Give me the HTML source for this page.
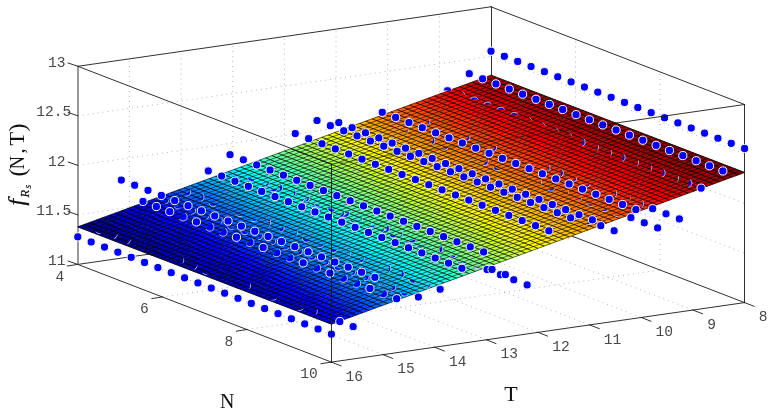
<!DOCTYPE html>
<html lang="en"><head><meta charset="utf-8"><title>Surface fit</title>
<style>html,body{margin:0;padding:0;background:#fff}svg{display:block}</style></head>
<body>
<svg width="774" height="415" viewBox="0 0 774 415">
<rect width="774" height="415" fill="#fff"/>
<g stroke="#000" stroke-opacity="0.4" stroke-width="0.8" stroke-dasharray="0.9 4.1" fill="none">
<path d="M162.33,296.97L575.53,237.47 M246.87,329.53L660.07,270.03 M439.35,212.34L692.95,310.04 M387.7,219.77L641.3,317.48 M336.05,227.21L589.65,324.91 M284.4,234.65L538,332.35 M232.75,242.09L486.35,339.79 M181.1,249.52L434.7,347.23 M129.45,256.96L383.05,354.66 M77.8,214.87L491,155.37 M77.8,165.35L491,105.85 M77.8,115.82L491,56.32 M439.35,212.34L439.35,14.24 M387.7,219.77L387.7,21.67 M336.05,227.21L336.05,29.11 M284.4,234.65L284.4,36.55 M232.75,242.09L232.75,43.99 M181.1,249.52L181.1,51.42 M129.45,256.96L129.45,58.86 M491,155.37L744.6,253.08 M491,105.85L744.6,203.55 M491,56.32L744.6,154.03 M575.53,237.47L575.53,39.37 M660.07,270.03L660.07,71.93"/>
</g>
<g stroke="#1a1a1a" stroke-width="0.9" fill="none" stroke-linecap="square">
<path d="M77.8,264.4L491,204.9 M491,204.9L744.6,302.6 M491.5,204.9L491.5,6.8 M77.8,66.3L491,6.8 M491,6.8L744.6,104.5 M744.5,302.6L744.5,104.5 M77.8,264.4L331.4,362.1 M331.4,362.1L744.6,302.6"/>
</g>
<path d="M78,264.4L78,66.3" stroke="#9a9a9a" stroke-width="2" fill="none"/>
<g fill="#0000ff" stroke="#fff" stroke-width="1.0">
<circle cx="425.76" cy="121.65" r="4.1"/>
<circle cx="273.53" cy="187.62" r="4.1"/>
<circle cx="404.01" cy="130.63" r="4.1"/>
<circle cx="439.11" cy="126.77" r="4.1"/>
<circle cx="286.87" cy="192.74" r="4.1"/>
<circle cx="417.36" cy="135.75" r="4.1"/>
<circle cx="360.52" cy="133.5" r="4.1"/>
<circle cx="251.78" cy="177.3" r="4.1"/>
<circle cx="452.45" cy="131.89" r="4.1"/>
<circle cx="300.22" cy="197.86" r="4.1"/>
<circle cx="430.71" cy="140.87" r="4.1"/>
<circle cx="373.86" cy="138.62" r="4.1"/>
<circle cx="265.13" cy="182.43" r="4.1"/>
<circle cx="465.8" cy="137.01" r="4.1"/>
<circle cx="313.57" cy="202.98" r="4.1"/>
<circle cx="444.05" cy="145.99" r="4.1"/>
<circle cx="186.54" cy="191.95" r="4.1"/>
<circle cx="99.55" cy="229.38" r="4.1"/>
<circle cx="164.79" cy="199.73" r="4.1"/>
<circle cx="387.21" cy="143.74" r="4.1"/>
<circle cx="278.47" cy="187.55" r="4.1"/>
<circle cx="479.15" cy="142.13" r="4.1"/>
<circle cx="326.92" cy="208.1" r="4.1"/>
<circle cx="457.4" cy="151.11" r="4.1"/>
<circle cx="199.88" cy="197.07" r="4.1"/>
<circle cx="112.89" cy="234.5" r="4.1"/>
<circle cx="178.14" cy="204.85" r="4.1"/>
<circle cx="400.56" cy="148.86" r="4.1"/>
<circle cx="291.82" cy="192.67" r="4.1"/>
<circle cx="492.49" cy="147.25" r="4.1"/>
<circle cx="340.26" cy="213.22" r="4.1"/>
<circle cx="470.75" cy="156.23" r="4.1"/>
<circle cx="213.23" cy="202.19" r="4.1"/>
<circle cx="126.24" cy="239.62" r="4.1"/>
<circle cx="191.48" cy="209.97" r="4.1"/>
<circle cx="413.91" cy="153.98" r="4.1"/>
<circle cx="305.17" cy="197.79" r="4.1"/>
<circle cx="505.84" cy="152.37" r="4.1"/>
<circle cx="353.61" cy="218.34" r="4.1"/>
<circle cx="484.09" cy="161.35" r="4.1"/>
<circle cx="226.58" cy="207.31" r="4.1"/>
<circle cx="139.59" cy="244.74" r="4.1"/>
<circle cx="204.83" cy="215.09" r="4.1"/>
<circle cx="427.25" cy="159.1" r="4.1"/>
<circle cx="318.52" cy="202.91" r="4.1"/>
<circle cx="519.19" cy="157.49" r="4.1"/>
<circle cx="366.96" cy="223.46" r="4.1"/>
<circle cx="497.44" cy="166.47" r="4.1"/>
<circle cx="239.93" cy="212.43" r="4.1"/>
<circle cx="152.94" cy="249.86" r="4.1"/>
<circle cx="218.18" cy="220.21" r="4.1"/>
<circle cx="440.6" cy="164.22" r="4.1"/>
<circle cx="331.86" cy="208.03" r="4.1"/>
<circle cx="532.54" cy="162.61" r="4.1"/>
<circle cx="380.31" cy="228.58" r="4.1"/>
<circle cx="510.79" cy="171.59" r="4.1"/>
<circle cx="253.27" cy="217.55" r="4.1"/>
<circle cx="166.28" cy="254.98" r="4.1"/>
<circle cx="231.53" cy="225.33" r="4.1"/>
<circle cx="453.95" cy="169.34" r="4.1"/>
<circle cx="345.21" cy="213.15" r="4.1"/>
<circle cx="545.88" cy="167.73" r="4.1"/>
<circle cx="393.65" cy="233.7" r="4.1"/>
<circle cx="524.14" cy="176.71" r="4.1"/>
<circle cx="266.62" cy="222.67" r="4.1"/>
<circle cx="179.63" cy="260.1" r="4.1"/>
<circle cx="244.87" cy="230.45" r="4.1"/>
<circle cx="467.29" cy="174.46" r="4.1"/>
<circle cx="358.56" cy="218.27" r="4.1"/>
<circle cx="559.23" cy="172.85" r="4.1"/>
<circle cx="407" cy="238.83" r="4.1"/>
<circle cx="537.48" cy="181.83" r="4.1"/>
<circle cx="279.97" cy="227.79" r="4.1"/>
<circle cx="192.98" cy="265.22" r="4.1"/>
<circle cx="258.22" cy="235.57" r="4.1"/>
<circle cx="480.64" cy="179.58" r="4.1"/>
<circle cx="371.91" cy="223.39" r="4.1"/>
<circle cx="572.58" cy="177.97" r="4.1"/>
<circle cx="420.35" cy="243.95" r="4.1"/>
<circle cx="550.83" cy="186.95" r="4.1"/>
<circle cx="293.32" cy="232.91" r="4.1"/>
<circle cx="206.33" cy="270.34" r="4.1"/>
<circle cx="271.57" cy="240.69" r="4.1"/>
<circle cx="493.99" cy="184.7" r="4.1"/>
<circle cx="385.25" cy="228.51" r="4.1"/>
<circle cx="585.93" cy="183.09" r="4.1"/>
<circle cx="433.69" cy="249.07" r="4.1"/>
<circle cx="564.18" cy="192.07" r="4.1"/>
<circle cx="306.66" cy="238.03" r="4.1"/>
<circle cx="219.67" cy="275.46" r="4.1"/>
<circle cx="284.92" cy="245.81" r="4.1"/>
<circle cx="507.34" cy="189.82" r="4.1"/>
<circle cx="398.6" cy="233.63" r="4.1"/>
<circle cx="599.27" cy="188.21" r="4.1"/>
<circle cx="447.04" cy="254.19" r="4.1"/>
<circle cx="577.53" cy="197.19" r="4.1"/>
<circle cx="320.01" cy="243.15" r="4.1"/>
<circle cx="233.02" cy="280.58" r="4.1"/>
<circle cx="298.26" cy="250.93" r="4.1"/>
<circle cx="520.68" cy="194.94" r="4.1"/>
<circle cx="411.95" cy="238.75" r="4.1"/>
<circle cx="612.62" cy="193.33" r="4.1"/>
<circle cx="460.39" cy="259.31" r="4.1"/>
<circle cx="590.87" cy="202.31" r="4.1"/>
<circle cx="333.36" cy="248.27" r="4.1"/>
<circle cx="246.37" cy="285.7" r="4.1"/>
<circle cx="311.61" cy="256.05" r="4.1"/>
<circle cx="534.03" cy="200.06" r="4.1"/>
<circle cx="425.29" cy="243.87" r="4.1"/>
<circle cx="625.97" cy="198.45" r="4.1"/>
<circle cx="473.74" cy="264.43" r="4.1"/>
<circle cx="604.22" cy="207.43" r="4.1"/>
<circle cx="346.71" cy="253.39" r="4.1"/>
<circle cx="259.72" cy="290.82" r="4.1"/>
<circle cx="324.96" cy="261.17" r="4.1"/>
<circle cx="547.38" cy="205.18" r="4.1"/>
<circle cx="438.64" cy="248.99" r="4.1"/>
<circle cx="639.32" cy="203.57" r="4.1"/>
<circle cx="617.57" cy="212.55" r="4.1"/>
<circle cx="360.05" cy="258.51" r="4.1"/>
<circle cx="273.06" cy="295.94" r="4.1"/>
<circle cx="338.31" cy="266.3" r="4.1"/>
<circle cx="560.73" cy="210.3" r="4.1"/>
<circle cx="451.99" cy="254.11" r="4.1"/>
<circle cx="373.4" cy="263.63" r="4.1"/>
<circle cx="286.41" cy="301.06" r="4.1"/>
<circle cx="351.65" cy="271.42" r="4.1"/>
<circle cx="574.07" cy="215.42" r="4.1"/>
<circle cx="465.34" cy="259.23" r="4.1"/>
<circle cx="386.75" cy="268.75" r="4.1"/>
<circle cx="299.76" cy="306.18" r="4.1"/>
<circle cx="365" cy="276.54" r="4.1"/>
<circle cx="587.42" cy="220.54" r="4.1"/>
<circle cx="478.68" cy="264.35" r="4.1"/>
<circle cx="400.09" cy="273.87" r="4.1"/>
<circle cx="313.11" cy="311.3" r="4.1"/>
<circle cx="378.35" cy="281.66" r="4.1"/>
<circle cx="413.44" cy="278.99" r="4.1"/>
<circle cx="326.45" cy="316.42" r="4.1"/>
<circle cx="391.69" cy="286.78" r="4.1"/>
<circle cx="426.79" cy="284.11" r="4.1"/>
<circle cx="405.04" cy="291.9" r="4.1"/>
</g>
<g stroke-width="0.5" stroke-linejoin="round">
<polygon points="77.8,226.86 93.09,221.25 152.55,255.53" fill="#00008f" stroke="#00008f"/>
<polygon points="93.09,221.25 102.42,217.82 195.66,272.07 152.55,255.53" fill="#00009f" stroke="#00009f"/>
<polygon points="102.42,217.82 111.75,214.4 237.05,287.95 195.66,272.07" fill="#0000af" stroke="#0000af"/>
<polygon points="111.75,214.4 121.07,210.98 276.81,303.2 237.05,287.95" fill="#0000bf" stroke="#0000bf"/>
<polygon points="121.07,210.98 130.4,207.56 315.04,317.87 276.81,303.2" fill="#0000cf" stroke="#0000cf"/>
<polygon points="130.4,207.56 136.62,205.27 334.7,322.93 331.4,324.14 315.04,317.87" fill="#0000df" stroke="#0000df"/>
<polygon points="136.62,205.27 142.42,203.14 340.6,320.77 334.7,322.93" fill="#0000ef" stroke="#0000ef"/>
<polygon points="142.42,203.14 148.22,201.01 346.5,318.6 340.6,320.77" fill="#0000ff" stroke="#0000ff"/>
<polygon points="148.22,201.01 154.02,198.89 352.4,316.44 346.5,318.6" fill="#0010ff" stroke="#0010ff"/>
<polygon points="154.02,198.89 159.82,196.76 358.3,314.27 352.4,316.44" fill="#0020ff" stroke="#0020ff"/>
<polygon points="159.82,196.76 165.62,194.63 364.2,312.1 358.3,314.27" fill="#0030ff" stroke="#0030ff"/>
<polygon points="165.62,194.63 171.42,192.5 370.1,309.94 364.2,312.1" fill="#0040ff" stroke="#0040ff"/>
<polygon points="171.42,192.5 177.22,190.37 376,307.77 370.1,309.94" fill="#0050ff" stroke="#0050ff"/>
<polygon points="177.22,190.37 183.02,188.24 381.9,305.61 376,307.77" fill="#0060ff" stroke="#0060ff"/>
<polygon points="183.02,188.24 188.82,186.11 387.8,303.44 381.9,305.61" fill="#0070ff" stroke="#0070ff"/>
<polygon points="188.82,186.11 194.62,183.99 393.7,301.28 387.8,303.44" fill="#0080ff" stroke="#0080ff"/>
<polygon points="194.62,183.99 200.42,181.86 399.6,299.11 393.7,301.28" fill="#008fff" stroke="#008fff"/>
<polygon points="200.42,181.86 206.22,179.73 405.5,296.95 399.6,299.11" fill="#009fff" stroke="#009fff"/>
<polygon points="206.22,179.73 212.02,177.6 411.4,294.78 405.5,296.95" fill="#00afff" stroke="#00afff"/>
<polygon points="212.02,177.6 217.82,175.47 417.3,292.62 411.4,294.78" fill="#00bfff" stroke="#00bfff"/>
<polygon points="217.82,175.47 223.61,173.34 423.2,290.45 417.3,292.62" fill="#00cfff" stroke="#00cfff"/>
<polygon points="223.61,173.34 229.41,171.21 429.1,288.29 423.2,290.45" fill="#00dfff" stroke="#00dfff"/>
<polygon points="229.41,171.21 235.21,169.08 435,286.12 429.1,288.29" fill="#00efff" stroke="#00efff"/>
<polygon points="235.21,169.08 241.01,166.96 440.9,283.96 435,286.12" fill="#00ffff" stroke="#00ffff"/>
<polygon points="241.01,166.96 247.21,164.68 447.09,281.68 440.9,283.96" fill="#10ffef" stroke="#10ffef"/>
<polygon points="247.21,164.68 253.4,162.41 453.28,279.41 447.09,281.68" fill="#20ffdf" stroke="#20ffdf"/>
<polygon points="253.4,162.41 259.59,160.14 459.48,277.14 453.28,279.41" fill="#30ffcf" stroke="#30ffcf"/>
<polygon points="259.59,160.14 265.78,157.86 465.67,274.86 459.48,277.14" fill="#40ffbf" stroke="#40ffbf"/>
<polygon points="265.78,157.86 271.98,155.59 471.86,272.59 465.67,274.86" fill="#50ffaf" stroke="#50ffaf"/>
<polygon points="271.98,155.59 278.17,153.32 478.05,270.32 471.86,272.59" fill="#60ff9f" stroke="#60ff9f"/>
<polygon points="278.17,153.32 284.36,151.05 484.25,268.04 478.05,270.32" fill="#70ff8f" stroke="#70ff8f"/>
<polygon points="284.36,151.05 290.56,148.77 490.44,265.77 484.25,268.04" fill="#80ff80" stroke="#80ff80"/>
<polygon points="290.56,148.77 296.75,146.5 496.63,263.5 490.44,265.77" fill="#8fff70" stroke="#8fff70"/>
<polygon points="296.75,146.5 302.94,144.23 502.83,261.23 496.63,263.5" fill="#9fff60" stroke="#9fff60"/>
<polygon points="302.94,144.23 309.13,141.95 509.02,258.95 502.83,261.23" fill="#afff50" stroke="#afff50"/>
<polygon points="309.13,141.95 315.33,139.68 515.21,256.68 509.02,258.95" fill="#bfff40" stroke="#bfff40"/>
<polygon points="315.33,139.68 321.52,137.41 521.4,254.41 515.21,256.68" fill="#cfff30" stroke="#cfff30"/>
<polygon points="321.52,137.41 327.71,135.14 527.6,252.13 521.4,254.41" fill="#dfff20" stroke="#dfff20"/>
<polygon points="327.71,135.14 333.9,132.86 533.79,249.86 527.6,252.13" fill="#efff10" stroke="#efff10"/>
<polygon points="333.9,132.86 339.63,130.76 541.72,246.95 533.79,249.86" fill="#ffff00" stroke="#ffff00"/>
<polygon points="339.63,130.76 344.37,129.02 553.34,242.69 541.72,246.95" fill="#ffef00" stroke="#ffef00"/>
<polygon points="344.37,129.02 349.1,127.29 563.54,238.94 553.34,242.69" fill="#ffdf00" stroke="#ffdf00"/>
<polygon points="349.1,127.29 353.83,125.55 571.61,235.98 563.54,238.94" fill="#ffcf00" stroke="#ffcf00"/>
<polygon points="353.83,125.55 358.57,123.81 579.68,233.02 571.61,235.98" fill="#ffbf00" stroke="#ffbf00"/>
<polygon points="358.57,123.81 364.76,121.54 587.75,230.06 579.68,233.02" fill="#ffaf00" stroke="#ffaf00"/>
<polygon points="364.76,121.54 372.31,118.77 595.82,227.09 587.75,230.06" fill="#ff9f00" stroke="#ff9f00"/>
<polygon points="372.31,118.77 379.85,116 603.89,224.13 595.82,227.09" fill="#ff8f00" stroke="#ff8f00"/>
<polygon points="379.85,116 387.4,113.23 611.96,221.17 603.89,224.13" fill="#ff8000" stroke="#ff8000"/>
<polygon points="387.4,113.23 394.94,110.46 618.98,218.59 611.96,221.17" fill="#ff7000" stroke="#ff7000"/>
<polygon points="394.94,110.46 402.48,107.69 626,216.02 618.98,218.59" fill="#ff6000" stroke="#ff6000"/>
<polygon points="402.48,107.69 410.03,104.92 633.02,213.44 626,216.02" fill="#ff5000" stroke="#ff5000"/>
<polygon points="410.03,104.92 417.57,102.15 640.03,210.87 633.02,213.44" fill="#ff4000" stroke="#ff4000"/>
<polygon points="417.57,102.15 425.11,99.39 647.05,208.29 640.03,210.87" fill="#ff3000" stroke="#ff3000"/>
<polygon points="425.11,99.39 432.66,96.62 654.07,205.72 647.05,208.29" fill="#ff2000" stroke="#ff2000"/>
<polygon points="432.66,96.62 440.2,93.85 661.09,203.14 654.07,205.72" fill="#ff1000" stroke="#ff1000"/>
<polygon points="440.2,93.85 447.74,91.08 668.82,200.3 661.09,203.14" fill="#ff0000" stroke="#ff0000"/>
<polygon points="447.74,91.08 455.27,88.32 676.95,197.32 668.82,200.3" fill="#ef0000" stroke="#ef0000"/>
<polygon points="455.27,88.32 462.78,85.56 685.09,194.33 676.95,197.32" fill="#df0000" stroke="#df0000"/>
<polygon points="462.78,85.56 470.29,82.81 693.56,191.22 685.09,194.33" fill="#cf0000" stroke="#cf0000"/>
<polygon points="470.29,82.81 477.79,80.05 702.45,187.96 693.56,191.22" fill="#bf0000" stroke="#bf0000"/>
<polygon points="477.79,80.05 485.3,77.3 711.35,184.69 702.45,187.96" fill="#af0000" stroke="#af0000"/>
<polygon points="485.3,77.3 491,75.2 508.5,81.92 722.6,180.56 711.35,184.69" fill="#9f0000" stroke="#9f0000"/>
<polygon points="508.5,81.92 614.3,122.5 735.69,175.76 722.6,180.56" fill="#8f0000" stroke="#8f0000"/>
<polygon points="614.3,122.5 744.6,172.49 735.69,175.76" fill="#800000" stroke="#800000"/>
</g>
<path d="M77.8,226.86L491,75.2 M82.41,228.63L495.61,76.97 M87.02,230.4L500.22,78.74 M91.63,232.17L504.83,80.51 M96.24,233.94L509.44,82.28 M100.85,235.7L514.05,84.05 M105.47,237.47L518.67,85.82 M110.08,239.24L523.28,87.59 M114.69,241.01L527.89,89.35 M119.3,242.78L532.5,91.12 M123.91,244.55L537.11,92.89 M128.52,246.32L541.72,94.66 M133.13,248.09L546.33,96.43 M137.74,249.85L550.94,98.2 M142.35,251.62L555.55,99.97 M146.96,253.39L560.16,101.74 M151.57,255.16L564.77,103.5 M156.19,256.93L569.39,105.27 M160.8,258.7L574,107.04 M165.41,260.47L578.61,108.81 M170.02,262.24L583.22,110.58 M174.63,264L587.83,112.35 M179.24,265.77L592.44,114.12 M183.85,267.54L597.05,115.89 M188.46,269.31L601.66,117.66 M193.07,271.08L606.27,119.42 M197.68,272.85L610.88,121.19 M202.29,274.62L615.49,122.96 M206.91,276.39L620.11,124.73 M211.52,278.16L624.72,126.5 M216.13,279.92L629.33,128.27 M220.74,281.69L633.94,130.04 M225.35,283.46L638.55,131.81 M229.96,285.23L643.16,133.57 M234.57,287L647.77,135.34 M239.18,288.77L652.38,137.11 M243.79,290.54L656.99,138.88 M248.4,292.31L661.6,140.65 M253.01,294.07L666.21,142.42 M257.63,295.84L670.83,144.19 M262.24,297.61L675.44,145.96 M266.85,299.38L680.05,147.72 M271.46,301.15L684.66,149.49 M276.07,302.92L689.27,151.26 M280.68,304.69L693.88,153.03 M285.29,306.46L698.49,154.8 M289.9,308.22L703.1,156.57 M294.51,309.99L707.71,158.34 M299.12,311.76L712.32,160.11 M303.73,313.53L716.93,161.88 M308.35,315.3L721.55,163.64 M312.96,317.07L726.16,165.41 M317.57,318.84L730.77,167.18 M322.18,320.61L735.38,168.95 M326.79,322.38L739.99,170.72 M331.4,324.14L744.6,172.49" stroke="#000" stroke-width="0.58" fill="none"/>
<path d="M77.8,226.86L331.4,324.14 M84.06,224.56L337.66,321.85 M90.32,222.26L343.92,319.55 M96.58,219.97L350.18,317.25 M102.84,217.67L356.44,314.95 M109.1,215.37L362.7,312.65 M115.36,213.07L368.96,310.36 M121.62,210.78L375.22,308.06 M127.88,208.48L381.48,305.76 M134.15,206.18L387.75,303.46 M140.41,203.88L394.01,301.17 M146.67,201.58L400.27,298.87 M152.93,199.29L406.53,296.57 M159.19,196.99L412.79,294.27 M165.45,194.69L419.05,291.97 M171.71,192.39L425.31,289.68 M177.97,190.09L431.57,287.38 M184.23,187.8L437.83,285.08 M190.49,185.5L444.09,282.78 M196.75,183.2L450.35,280.49 M203.01,180.9L456.61,278.19 M209.27,178.61L462.87,275.89 M215.53,176.31L469.13,273.59 M221.79,174.01L475.39,271.29 M228.05,171.71L481.65,269 M234.32,169.41L487.92,266.7 M240.58,167.12L494.18,264.4 M246.84,164.82L500.44,262.1 M253.1,162.52L506.7,259.81 M259.36,160.22L512.96,257.51 M265.62,157.93L519.22,255.21 M271.88,155.63L525.48,252.91 M278.14,153.33L531.74,250.61 M284.4,151.03L538,248.32 M290.66,148.73L544.26,246.02 M296.92,146.44L550.52,243.72 M303.18,144.14L556.78,241.42 M309.44,141.84L563.04,239.12 M315.7,139.54L569.3,236.83 M321.96,137.25L575.56,234.53 M328.22,134.95L581.82,232.23 M334.48,132.65L588.08,229.93 M340.75,130.35L594.35,227.64 M347.01,128.05L600.61,225.34 M353.27,125.76L606.87,223.04 M359.53,123.46L613.13,220.74 M365.79,121.16L619.39,218.44 M372.05,118.86L625.65,216.15 M378.31,116.56L631.91,213.85 M384.57,114.27L638.17,211.55 M390.83,111.97L644.43,209.25 M397.09,109.67L650.69,206.96 M403.35,107.37L656.95,204.66 M409.61,105.08L663.21,202.36 M415.87,102.78L669.47,200.06 M422.13,100.48L675.73,197.76 M428.39,98.18L681.99,195.47 M434.65,95.88L688.25,193.17 M440.92,93.59L694.52,190.87 M447.18,91.29L700.78,188.57 M453.44,88.99L707.04,186.27 M459.7,86.69L713.3,183.98 M465.96,84.4L719.56,181.68 M472.22,82.1L725.82,179.38 M478.48,79.8L732.08,177.08 M484.74,77.5L738.34,174.79 M491,75.2L744.6,172.49" stroke="#000" stroke-width="0.8" fill="none"/>
<defs>
<clipPath id="c0"><polygon points="4.49,-9.36 1.02,10.33 10.87,12.07 14.34,-7.63"/></clipPath>
<clipPath id="c1"><polygon points="10.2,-0.56 -9.12,4.62 -6.53,14.28 12.79,9.1"/></clipPath>
<clipPath id="c2"><polygon points="5.08,-9.26 1.61,10.44 11.46,12.17 14.93,-7.52"/></clipPath>
<clipPath id="c3"><polygon points="10.54,0.7 -8.78,5.87 -6.19,15.53 13.13,10.36"/></clipPath>
<clipPath id="c4"><polygon points="8.58,5.68 -10.22,-1.16 -13.64,8.23 5.16,15.07"/></clipPath>
<clipPath id="c5"><polygon points="8.85,4.92 -9.94,-1.92 -13.36,7.48 5.43,14.32"/></clipPath>
<clipPath id="c6"><polygon points="8.23,6.62 -10.56,-0.23 -13.98,9.17 4.81,16.01"/></clipPath>
<clipPath id="c7"><polygon points="9.03,-5.47 -3.82,9.85 3.84,16.27 16.69,0.95"/></clipPath>
<clipPath id="c8"><polygon points="3.8,-9.48 0.33,10.21 10.18,11.95 13.65,-7.75"/></clipPath>
<clipPath id="c9"><polygon points="10.07,-1.04 -9.25,4.13 -6.66,13.79 12.66,8.62"/></clipPath>
<clipPath id="c10"><polygon points="8.27,-6.12 -4.59,9.2 3.07,15.63 15.93,0.31"/></clipPath>
<clipPath id="c11"><polygon points="8.04,-6.31 -4.82,9.01 2.84,15.44 15.7,0.12"/></clipPath>
<clipPath id="c12"><polygon points="10.38,0.12 -8.93,5.29 -6.35,14.95 12.97,9.78"/></clipPath>
<clipPath id="c13"><polygon points="7.81,-6.5 -5.05,8.82 2.61,15.25 15.47,-0.08"/></clipPath>
<clipPath id="c14"><polygon points="8.17,6.8 -10.63,-0.04 -14.05,9.36 4.75,16.2"/></clipPath>
<clipPath id="c15"><polygon points="8.73,-5.73 -4.13,9.59 3.53,16.02 16.39,0.7"/></clipPath>
<clipPath id="c16"><polygon points="3.31,-9.57 -0.16,10.13 9.69,11.86 13.16,-7.83"/></clipPath>
<clipPath id="c17"><polygon points="3.51,-9.54 0.04,10.16 9.88,11.9 13.36,-7.8"/></clipPath>
<clipPath id="c18"><polygon points="8.37,6.24 -10.42,-0.6 -13.84,8.8 4.95,15.64"/></clipPath>
<clipPath id="c19"><polygon points="10.28,-0.27 -9.04,4.91 -6.45,14.57 12.87,9.39"/></clipPath>
<clipPath id="c20"><polygon points="4.1,-9.43 0.63,10.26 10.48,12 13.95,-7.69"/></clipPath>
<clipPath id="c21"><polygon points="8.06,7.09 -10.73,0.24 -14.15,9.64 4.64,16.48"/></clipPath>
<clipPath id="c22"><polygon points="8.44,6.05 -10.35,-0.79 -13.77,8.61 5.02,15.45"/></clipPath>
<clipPath id="c23"><polygon points="9.11,-5.41 -3.75,9.91 3.91,16.34 16.77,1.02"/></clipPath>
<clipPath id="c24"><polygon points="5.58,-9.17 2.1,10.53 11.95,12.26 15.43,-7.43"/></clipPath>
<clipPath id="c25"><polygon points="8.68,5.39 -10.12,-1.45 -13.54,7.95 5.26,14.79"/></clipPath>
<clipPath id="c26"><polygon points="4.69,-9.33 1.22,10.37 11.07,12.11 14.54,-7.59"/></clipPath>
<clipPath id="c27"><polygon points="8.34,6.33 -10.46,-0.51 -13.88,8.89 4.92,15.73"/></clipPath>
<clipPath id="c28"><polygon points="10.67,1.18 -8.65,6.36 -6.06,16.01 13.26,10.84"/></clipPath>
<clipPath id="c29"><polygon points="8.57,-5.86 -4.28,9.46 3.38,15.89 16.23,0.57"/></clipPath>
<clipPath id="c30"><polygon points="10.44,0.31 -8.88,5.49 -6.29,15.15 13.02,9.97"/></clipPath>
<clipPath id="c31"><polygon points="7.65,-6.63 -5.2,8.69 2.46,15.12 15.31,-0.2"/></clipPath>
<clipPath id="c32"><polygon points="5.28,-9.22 1.81,10.47 11.66,12.21 15.13,-7.49"/></clipPath>
<clipPath id="c33"><polygon points="8.78,5.11 -10.01,-1.73 -13.43,7.67 5.36,14.51"/></clipPath>
<clipPath id="c34"><polygon points="5.38,-9.21 1.91,10.49 11.76,12.23 15.23,-7.47"/></clipPath>
<clipPath id="c35"><polygon points="9.19,-5.35 -3.67,9.97 3.99,16.4 16.85,1.08"/></clipPath>
<clipPath id="c36"><polygon points="4.79,-9.31 1.32,10.39 11.16,12.12 14.64,-7.57"/></clipPath>
<clipPath id="c37"><polygon points="10.46,0.41 -8.86,5.58 -6.27,15.24 13.05,10.07"/></clipPath>
<clipPath id="c38"><polygon points="5.18,-9.24 1.71,10.46 11.56,12.19 15.03,-7.5"/></clipPath>
<clipPath id="c39"><polygon points="9.42,-5.15 -3.44,10.17 4.22,16.6 17.08,1.27"/></clipPath>
<clipPath id="c40"><polygon points="10.13,-0.85 -9.19,4.33 -6.61,13.99 12.71,8.81"/></clipPath>
<clipPath id="c41"><polygon points="10.59,0.89 -8.73,6.07 -6.14,15.72 13.18,10.55"/></clipPath>
<clipPath id="c42"><polygon points="8.13,6.9 -10.66,0.06 -14.08,9.45 4.71,16.29"/></clipPath>
<clipPath id="c43"><polygon points="10.57,0.79 -8.75,5.97 -6.17,15.63 13.15,10.45"/></clipPath>
<clipPath id="c44"><polygon points="-10,-0.4 10,-0.4 10,-10.4 -10,-10.4"/></clipPath>
<clipPath id="c45"><polygon points="-3.52,-10.1 9.34,5.22 17,-1.21 4.14,-16.53"/></clipPath>
<clipPath id="c46"><polygon points="-10,-1.9 10,-1.9 10,-11.9 -10,-11.9"/></clipPath>
<clipPath id="c47"><polygon points="6.36,-7.78 -7.78,6.36 -0.71,13.44 13.44,-0.71"/></clipPath>
<clipPath id="c48"><polygon points="3.71,-9.5 0.23,10.2 10.08,11.93 13.55,-7.76"/></clipPath>
<clipPath id="c49"><polygon points="3.02,-9.62 -0.46,10.07 9.39,11.81 12.86,-7.89"/></clipPath>
</defs>
<g fill="#0000ff" stroke="#fff" stroke-width="0.7">
<g transform="translate(425.76,121.65)" clip-path="url(#c0)"><circle r="4.1"/></g>
<g transform="translate(273.53,187.62)" clip-path="url(#c1)"><circle r="4.1"/></g>
<g transform="translate(404.01,130.63)" clip-path="url(#c2)"><circle r="4.1"/></g>
<g transform="translate(439.11,126.77)" clip-path="url(#c3)"><circle r="4.1"/></g>
<g transform="translate(417.36,135.75)" clip-path="url(#c3)"><circle r="4.1"/></g>
<g transform="translate(360.52,133.5)" clip-path="url(#c4)"><circle r="4.1"/></g>
<g transform="translate(251.78,177.3)" clip-path="url(#c5)"><circle r="4.1"/></g>
<g transform="translate(452.45,131.89)" clip-path="url(#c6)"><circle r="4.1"/></g>
<g transform="translate(300.22,197.86)" clip-path="url(#c7)"><circle r="4.1"/></g>
<g transform="translate(430.71,140.87)" clip-path="url(#c8)"><circle r="4.1"/></g>
<g transform="translate(373.86,138.62)" clip-path="url(#c9)"><circle r="4.1"/></g>
<g transform="translate(265.13,182.43)" clip-path="url(#c10)"><circle r="4.1"/></g>
<g transform="translate(465.8,137.01)" clip-path="url(#c11)"><circle r="4.1"/></g>
<g transform="translate(313.57,202.98)" clip-path="url(#c6)"><circle r="4.1"/></g>
<g transform="translate(444.05,145.99)" clip-path="url(#c12)"><circle r="4.1"/></g>
<g transform="translate(186.54,191.95)" clip-path="url(#c13)"><circle r="4.1"/></g>
<g transform="translate(99.55,229.38)" clip-path="url(#c14)"><circle r="4.1"/></g>
<g transform="translate(164.79,199.73)" clip-path="url(#c15)"><circle r="4.1"/></g>
<g transform="translate(387.21,143.74)" clip-path="url(#c4)"><circle r="4.1"/></g>
<g transform="translate(278.47,187.55)" clip-path="url(#c16)"><circle r="4.1"/></g>
<g transform="translate(326.92,208.1)" clip-path="url(#c0)"><circle r="4.1"/></g>
<g transform="translate(199.88,197.07)" clip-path="url(#c17)"><circle r="4.1"/></g>
<g transform="translate(112.89,234.5)" clip-path="url(#c7)"><circle r="4.1"/></g>
<g transform="translate(178.14,204.85)" clip-path="url(#c18)"><circle r="4.1"/></g>
<g transform="translate(400.56,148.86)" clip-path="url(#c19)"><circle r="4.1"/></g>
<g transform="translate(291.82,192.67)" clip-path="url(#c20)"><circle r="4.1"/></g>
<g transform="translate(492.49,147.25)" clip-path="url(#c11)"><circle r="4.1"/></g>
<g transform="translate(340.26,213.22)" clip-path="url(#c11)"><circle r="4.1"/></g>
<g transform="translate(470.75,156.23)" clip-path="url(#c21)"><circle r="4.1"/></g>
<g transform="translate(213.23,202.19)" clip-path="url(#c4)"><circle r="4.1"/></g>
<g transform="translate(126.24,239.62)" clip-path="url(#c7)"><circle r="4.1"/></g>
<g transform="translate(191.48,209.97)" clip-path="url(#c10)"><circle r="4.1"/></g>
<g transform="translate(413.91,153.98)" clip-path="url(#c16)"><circle r="4.1"/></g>
<g transform="translate(305.17,197.79)" clip-path="url(#c10)"><circle r="4.1"/></g>
<g transform="translate(353.61,218.34)" clip-path="url(#c22)"><circle r="4.1"/></g>
<g transform="translate(484.09,161.35)" clip-path="url(#c11)"><circle r="4.1"/></g>
<g transform="translate(204.83,215.09)" clip-path="url(#c23)"><circle r="4.1"/></g>
<g transform="translate(427.25,159.1)" clip-path="url(#c4)"><circle r="4.1"/></g>
<g transform="translate(318.52,202.91)" clip-path="url(#c4)"><circle r="4.1"/></g>
<g transform="translate(519.19,157.49)" clip-path="url(#c22)"><circle r="4.1"/></g>
<g transform="translate(366.96,223.46)" clip-path="url(#c24)"><circle r="4.1"/></g>
<g transform="translate(497.44,166.47)" clip-path="url(#c25)"><circle r="4.1"/></g>
<g transform="translate(239.93,212.43)" clip-path="url(#c18)"><circle r="4.1"/></g>
<g transform="translate(218.18,220.21)" clip-path="url(#c26)"><circle r="4.1"/></g>
<g transform="translate(440.6,164.22)" clip-path="url(#c27)"><circle r="4.1"/></g>
<g transform="translate(331.86,208.03)" clip-path="url(#c5)"><circle r="4.1"/></g>
<g transform="translate(532.54,162.61)" clip-path="url(#c28)"><circle r="4.1"/></g>
<g transform="translate(380.31,228.58)" clip-path="url(#c29)"><circle r="4.1"/></g>
<g transform="translate(253.27,217.55)" clip-path="url(#c30)"><circle r="4.1"/></g>
<g transform="translate(231.53,225.33)" clip-path="url(#c4)"><circle r="4.1"/></g>
<g transform="translate(453.95,169.34)" clip-path="url(#c10)"><circle r="4.1"/></g>
<g transform="translate(345.21,213.15)" clip-path="url(#c31)"><circle r="4.1"/></g>
<g transform="translate(545.88,167.73)" clip-path="url(#c0)"><circle r="4.1"/></g>
<g transform="translate(393.65,233.7)" clip-path="url(#c25)"><circle r="4.1"/></g>
<g transform="translate(266.62,222.67)" clip-path="url(#c26)"><circle r="4.1"/></g>
<g transform="translate(179.63,260.1)" clip-path="url(#c32)"><circle r="4.1"/></g>
<g transform="translate(244.87,230.45)" clip-path="url(#c33)"><circle r="4.1"/></g>
<g transform="translate(467.29,174.46)" clip-path="url(#c4)"><circle r="4.1"/></g>
<g transform="translate(358.56,218.27)" clip-path="url(#c34)"><circle r="4.1"/></g>
<g transform="translate(559.23,172.85)" clip-path="url(#c8)"><circle r="4.1"/></g>
<g transform="translate(407,238.83)" clip-path="url(#c3)"><circle r="4.1"/></g>
<g transform="translate(537.48,181.83)" clip-path="url(#c2)"><circle r="4.1"/></g>
<g transform="translate(279.97,227.79)" clip-path="url(#c13)"><circle r="4.1"/></g>
<g transform="translate(192.98,265.22)" clip-path="url(#c35)"><circle r="4.1"/></g>
<g transform="translate(258.22,235.57)" clip-path="url(#c10)"><circle r="4.1"/></g>
<g transform="translate(480.64,179.58)" clip-path="url(#c36)"><circle r="4.1"/></g>
<g transform="translate(371.91,223.39)" clip-path="url(#c37)"><circle r="4.1"/></g>
<g transform="translate(572.58,177.97)" clip-path="url(#c29)"><circle r="4.1"/></g>
<g transform="translate(420.35,243.95)" clip-path="url(#c22)"><circle r="4.1"/></g>
<g transform="translate(550.83,186.95)" clip-path="url(#c1)"><circle r="4.1"/></g>
<g transform="translate(293.32,232.91)" clip-path="url(#c38)"><circle r="4.1"/></g>
<g transform="translate(206.33,270.34)" clip-path="url(#c14)"><circle r="4.1"/></g>
<g transform="translate(271.57,240.69)" clip-path="url(#c10)"><circle r="4.1"/></g>
<g transform="translate(493.99,184.7)" clip-path="url(#c5)"><circle r="4.1"/></g>
<g transform="translate(385.25,228.51)" clip-path="url(#c16)"><circle r="4.1"/></g>
<g transform="translate(585.93,183.09)" clip-path="url(#c1)"><circle r="4.1"/></g>
<g transform="translate(433.69,249.07)" clip-path="url(#c24)"><circle r="4.1"/></g>
<g transform="translate(564.18,192.07)" clip-path="url(#c24)"><circle r="4.1"/></g>
<g transform="translate(306.66,238.03)" clip-path="url(#c33)"><circle r="4.1"/></g>
<g transform="translate(284.92,245.81)" clip-path="url(#c30)"><circle r="4.1"/></g>
<g transform="translate(507.34,189.82)" clip-path="url(#c19)"><circle r="4.1"/></g>
<g transform="translate(398.6,233.63)" clip-path="url(#c36)"><circle r="4.1"/></g>
<g transform="translate(599.27,188.21)" clip-path="url(#c3)"><circle r="4.1"/></g>
<g transform="translate(447.04,254.19)" clip-path="url(#c39)"><circle r="4.1"/></g>
<g transform="translate(577.53,197.19)" clip-path="url(#c7)"><circle r="4.1"/></g>
<g transform="translate(320.01,243.15)" clip-path="url(#c30)"><circle r="4.1"/></g>
<g transform="translate(298.26,250.93)" clip-path="url(#c13)"><circle r="4.1"/></g>
<g transform="translate(520.68,194.94)" clip-path="url(#c37)"><circle r="4.1"/></g>
<g transform="translate(411.95,238.75)" clip-path="url(#c9)"><circle r="4.1"/></g>
<g transform="translate(612.62,193.33)" clip-path="url(#c0)"><circle r="4.1"/></g>
<g transform="translate(460.39,259.31)" clip-path="url(#c6)"><circle r="4.1"/></g>
<g transform="translate(590.87,202.31)" clip-path="url(#c22)"><circle r="4.1"/></g>
<g transform="translate(333.36,248.27)" clip-path="url(#c40)"><circle r="4.1"/></g>
<g transform="translate(246.37,285.7)" clip-path="url(#c2)"><circle r="4.1"/></g>
<g transform="translate(311.61,256.05)" clip-path="url(#c40)"><circle r="4.1"/></g>
<g transform="translate(534.03,200.06)" clip-path="url(#c34)"><circle r="4.1"/></g>
<g transform="translate(625.97,198.45)" clip-path="url(#c24)"><circle r="4.1"/></g>
<g transform="translate(473.74,264.43)" clip-path="url(#c28)"><circle r="4.1"/></g>
<g transform="translate(604.22,207.43)" clip-path="url(#c12)"><circle r="4.1"/></g>
<g transform="translate(346.71,253.39)" clip-path="url(#c38)"><circle r="4.1"/></g>
<g transform="translate(324.96,261.17)" clip-path="url(#c10)"><circle r="4.1"/></g>
<g transform="translate(547.38,205.18)" clip-path="url(#c19)"><circle r="4.1"/></g>
<g transform="translate(438.64,248.99)" clip-path="url(#c16)"><circle r="4.1"/></g>
<g transform="translate(639.32,203.57)" clip-path="url(#c0)"><circle r="4.1"/></g>
<g transform="translate(617.57,212.55)" clip-path="url(#c6)"><circle r="4.1"/></g>
<g transform="translate(360.05,258.51)" clip-path="url(#c10)"><circle r="4.1"/></g>
<g transform="translate(273.06,295.94)" clip-path="url(#c41)"><circle r="4.1"/></g>
<g transform="translate(338.31,266.3)" clip-path="url(#c33)"><circle r="4.1"/></g>
<g transform="translate(560.73,210.3)" clip-path="url(#c19)"><circle r="4.1"/></g>
<g transform="translate(451.99,254.11)" clip-path="url(#c19)"><circle r="4.1"/></g>
<g transform="translate(351.65,271.42)" clip-path="url(#c10)"><circle r="4.1"/></g>
<g transform="translate(574.07,215.42)" clip-path="url(#c4)"><circle r="4.1"/></g>
<g transform="translate(465.34,259.23)" clip-path="url(#c42)"><circle r="4.1"/></g>
<g transform="translate(386.75,268.75)" clip-path="url(#c20)"><circle r="4.1"/></g>
<g transform="translate(299.76,306.18)" clip-path="url(#c3)"><circle r="4.1"/></g>
<g transform="translate(365,276.54)" clip-path="url(#c13)"><circle r="4.1"/></g>
<g transform="translate(587.42,220.54)" clip-path="url(#c31)"><circle r="4.1"/></g>
<g transform="translate(478.68,264.35)" clip-path="url(#c27)"><circle r="4.1"/></g>
<g transform="translate(400.09,273.87)" clip-path="url(#c17)"><circle r="4.1"/></g>
<g transform="translate(313.11,311.3)" clip-path="url(#c2)"><circle r="4.1"/></g>
<g transform="translate(378.35,281.66)" clip-path="url(#c43)"><circle r="4.1"/></g>
<g transform="translate(413.44,278.99)" clip-path="url(#c33)"><circle r="4.1"/></g>
<g transform="translate(391.69,286.78)" clip-path="url(#c13)"><circle r="4.1"/></g>
<g transform="translate(426.79,284.11)" clip-path="url(#c15)"><circle r="4.1"/></g>
<g transform="translate(405.04,291.9)" clip-path="url(#c33)"><circle r="4.1"/></g>
<g transform="translate(447.51,90.87)" clip-path="url(#c44)"><circle r="4.1"/></g>
<g transform="translate(460.85,95.99)" clip-path="url(#c45)"><circle r="4.1"/></g>
<g transform="translate(474.2,101.11)" clip-path="url(#c46)"><circle r="4.1"/></g>
<g transform="translate(487.55,106.23)" clip-path="url(#c46)"><circle r="4.1"/></g>
<g transform="translate(500.89,111.35)" clip-path="url(#c46)"><circle r="4.1"/></g>
<g transform="translate(514.24,116.47)" clip-path="url(#c46)"><circle r="4.1"/></g>
<g transform="translate(183.08,216.77)" clip-path="url(#c47)"><circle r="4.1"/></g>
<g transform="translate(527.59,121.59)" clip-path="url(#c45)"><circle r="4.1"/></g>
<g transform="translate(540.94,126.71)" clip-path="url(#c45)"><circle r="4.1"/></g>
<g transform="translate(209.78,227.02)" clip-path="url(#c47)"><circle r="4.1"/></g>
<g transform="translate(554.28,131.83)" clip-path="url(#c45)"><circle r="4.1"/></g>
<g transform="translate(223.13,232.14)" clip-path="url(#c47)"><circle r="4.1"/></g>
<g transform="translate(567.63,136.95)" clip-path="url(#c45)"><circle r="4.1"/></g>
<g transform="translate(580.98,142.07)" clip-path="url(#c48)"><circle r="4.1"/></g>
<g transform="translate(249.82,242.38)" clip-path="url(#c47)"><circle r="4.1"/></g>
<g transform="translate(594.33,147.19)" clip-path="url(#c2)"><circle r="4.1"/></g>
<g transform="translate(607.67,152.31)" clip-path="url(#c2)"><circle r="4.1"/></g>
<g transform="translate(276.52,252.62)" clip-path="url(#c47)"><circle r="4.1"/></g>
<g transform="translate(621.02,157.43)" clip-path="url(#c48)"><circle r="4.1"/></g>
<g transform="translate(289.86,257.74)" clip-path="url(#c47)"><circle r="4.1"/></g>
<g transform="translate(634.37,162.55)" clip-path="url(#c2)"><circle r="4.1"/></g>
<g transform="translate(647.72,167.67)" clip-path="url(#c2)"><circle r="4.1"/></g>
<g transform="translate(316.56,267.98)" clip-path="url(#c47)"><circle r="4.1"/></g>
<g transform="translate(661.06,172.79)" clip-path="url(#c48)"><circle r="4.1"/></g>
<g transform="translate(674.41,177.91)" clip-path="url(#c2)"><circle r="4.1"/></g>
<g transform="translate(343.25,278.22)" clip-path="url(#c47)"><circle r="4.1"/></g>
<g transform="translate(687.76,183.03)" clip-path="url(#c49)"><circle r="4.1"/></g>
<g transform="translate(356.6,283.34)" clip-path="url(#c47)"><circle r="4.1"/></g>
<g transform="translate(383.29,293.58)" clip-path="url(#c47)"><circle r="4.1"/></g>
</g>
<g fill="#0000ff" stroke="#fff" stroke-width="1.0">
<circle cx="382.26" cy="112.31" r="4.1"/>
<circle cx="469.25" cy="73.69" r="4.1"/>
<circle cx="77.8" cy="236.86" r="4.1"/>
<circle cx="338.77" cy="122.58" r="4.1"/>
<circle cx="395.61" cy="117.43" r="4.1"/>
<circle cx="482.6" cy="78.81" r="4.1"/>
<circle cx="491" cy="51.2" r="4.1"/>
<circle cx="143.04" cy="201.41" r="4.1"/>
<circle cx="295.27" cy="133.54" r="4.1"/>
<circle cx="208.28" cy="170.97" r="4.1"/>
<circle cx="91.15" cy="241.98" r="4.1"/>
<circle cx="352.12" cy="127.7" r="4.1"/>
<circle cx="317.02" cy="120.56" r="4.1"/>
<circle cx="408.96" cy="122.55" r="4.1"/>
<circle cx="495.95" cy="83.93" r="4.1"/>
<circle cx="230.03" cy="154.69" r="4.1"/>
<circle cx="504.35" cy="56.32" r="4.1"/>
<circle cx="156.39" cy="206.53" r="4.1"/>
<circle cx="308.62" cy="138.66" r="4.1"/>
<circle cx="221.63" cy="176.09" r="4.1"/>
<circle cx="104.49" cy="247.1" r="4.1"/>
<circle cx="365.46" cy="132.82" r="4.1"/>
<circle cx="330.37" cy="125.68" r="4.1"/>
<circle cx="422.31" cy="127.67" r="4.1"/>
<circle cx="509.29" cy="89.05" r="4.1"/>
<circle cx="243.38" cy="159.81" r="4.1"/>
<circle cx="517.69" cy="61.44" r="4.1"/>
<circle cx="169.74" cy="211.65" r="4.1"/>
<circle cx="321.97" cy="143.78" r="4.1"/>
<circle cx="234.98" cy="181.21" r="4.1"/>
<circle cx="117.84" cy="252.22" r="4.1"/>
<circle cx="378.81" cy="137.94" r="4.1"/>
<circle cx="343.72" cy="130.8" r="4.1"/>
<circle cx="435.65" cy="132.79" r="4.1"/>
<circle cx="522.64" cy="94.17" r="4.1"/>
<circle cx="256.73" cy="164.93" r="4.1"/>
<circle cx="531.04" cy="66.56" r="4.1"/>
<circle cx="121.29" cy="180.1" r="4.1"/>
<circle cx="335.32" cy="148.9" r="4.1"/>
<circle cx="248.33" cy="186.33" r="4.1"/>
<circle cx="131.19" cy="257.34" r="4.1"/>
<circle cx="392.16" cy="143.06" r="4.1"/>
<circle cx="357.06" cy="135.92" r="4.1"/>
<circle cx="449" cy="137.91" r="4.1"/>
<circle cx="535.99" cy="99.29" r="4.1"/>
<circle cx="270.07" cy="170.05" r="4.1"/>
<circle cx="544.39" cy="71.68" r="4.1"/>
<circle cx="196.43" cy="221.9" r="4.1"/>
<circle cx="134.64" cy="185.22" r="4.1"/>
<circle cx="348.66" cy="154.02" r="4.1"/>
<circle cx="261.67" cy="191.45" r="4.1"/>
<circle cx="144.54" cy="262.46" r="4.1"/>
<circle cx="405.51" cy="148.18" r="4.1"/>
<circle cx="370.41" cy="141.04" r="4.1"/>
<circle cx="462.35" cy="143.03" r="4.1"/>
<circle cx="549.34" cy="104.41" r="4.1"/>
<circle cx="283.42" cy="175.17" r="4.1"/>
<circle cx="557.74" cy="76.8" r="4.1"/>
<circle cx="147.99" cy="190.34" r="4.1"/>
<circle cx="362.01" cy="159.14" r="4.1"/>
<circle cx="275.02" cy="196.57" r="4.1"/>
<circle cx="157.88" cy="267.58" r="4.1"/>
<circle cx="418.85" cy="153.3" r="4.1"/>
<circle cx="383.76" cy="146.16" r="4.1"/>
<circle cx="475.69" cy="148.15" r="4.1"/>
<circle cx="562.68" cy="109.53" r="4.1"/>
<circle cx="296.77" cy="180.29" r="4.1"/>
<circle cx="571.08" cy="81.93" r="4.1"/>
<circle cx="161.34" cy="195.46" r="4.1"/>
<circle cx="375.36" cy="164.26" r="4.1"/>
<circle cx="288.37" cy="201.69" r="4.1"/>
<circle cx="171.23" cy="272.7" r="4.1"/>
<circle cx="432.2" cy="158.42" r="4.1"/>
<circle cx="397.11" cy="151.28" r="4.1"/>
<circle cx="489.04" cy="153.28" r="4.1"/>
<circle cx="576.03" cy="114.65" r="4.1"/>
<circle cx="310.12" cy="185.41" r="4.1"/>
<circle cx="584.43" cy="87.05" r="4.1"/>
<circle cx="236.47" cy="237.26" r="4.1"/>
<circle cx="174.68" cy="200.58" r="4.1"/>
<circle cx="388.71" cy="169.38" r="4.1"/>
<circle cx="301.72" cy="206.81" r="4.1"/>
<circle cx="184.58" cy="277.82" r="4.1"/>
<circle cx="445.55" cy="163.54" r="4.1"/>
<circle cx="410.45" cy="156.4" r="4.1"/>
<circle cx="502.39" cy="158.4" r="4.1"/>
<circle cx="589.38" cy="119.77" r="4.1"/>
<circle cx="323.46" cy="190.53" r="4.1"/>
<circle cx="597.78" cy="92.17" r="4.1"/>
<circle cx="188.03" cy="205.7" r="4.1"/>
<circle cx="402.05" cy="174.5" r="4.1"/>
<circle cx="315.06" cy="211.93" r="4.1"/>
<circle cx="197.93" cy="282.94" r="4.1"/>
<circle cx="458.89" cy="168.66" r="4.1"/>
<circle cx="423.8" cy="161.52" r="4.1"/>
<circle cx="515.74" cy="163.52" r="4.1"/>
<circle cx="602.73" cy="124.89" r="4.1"/>
<circle cx="336.81" cy="195.65" r="4.1"/>
<circle cx="611.13" cy="97.29" r="4.1"/>
<circle cx="263.17" cy="247.5" r="4.1"/>
<circle cx="201.38" cy="210.82" r="4.1"/>
<circle cx="415.4" cy="179.62" r="4.1"/>
<circle cx="328.41" cy="217.05" r="4.1"/>
<circle cx="211.27" cy="288.06" r="4.1"/>
<circle cx="472.24" cy="173.78" r="4.1"/>
<circle cx="437.15" cy="166.64" r="4.1"/>
<circle cx="529.08" cy="168.64" r="4.1"/>
<circle cx="616.07" cy="130.01" r="4.1"/>
<circle cx="350.16" cy="200.77" r="4.1"/>
<circle cx="624.47" cy="102.41" r="4.1"/>
<circle cx="214.73" cy="215.94" r="4.1"/>
<circle cx="428.75" cy="184.74" r="4.1"/>
<circle cx="341.76" cy="222.17" r="4.1"/>
<circle cx="224.62" cy="293.18" r="4.1"/>
<circle cx="485.59" cy="178.9" r="4.1"/>
<circle cx="450.49" cy="171.76" r="4.1"/>
<circle cx="542.43" cy="173.76" r="4.1"/>
<circle cx="629.42" cy="135.13" r="4.1"/>
<circle cx="363.51" cy="205.89" r="4.1"/>
<circle cx="637.82" cy="107.53" r="4.1"/>
<circle cx="228.07" cy="221.06" r="4.1"/>
<circle cx="442.09" cy="189.86" r="4.1"/>
<circle cx="355.11" cy="227.29" r="4.1"/>
<circle cx="237.97" cy="298.3" r="4.1"/>
<circle cx="498.94" cy="184.02" r="4.1"/>
<circle cx="463.84" cy="176.88" r="4.1"/>
<circle cx="555.78" cy="178.88" r="4.1"/>
<circle cx="642.77" cy="140.25" r="4.1"/>
<circle cx="487.08" cy="269.55" r="4.1"/>
<circle cx="376.85" cy="211.01" r="4.1"/>
<circle cx="651.17" cy="112.65" r="4.1"/>
<circle cx="303.21" cy="262.86" r="4.1"/>
<circle cx="241.42" cy="226.18" r="4.1"/>
<circle cx="455.44" cy="194.98" r="4.1"/>
<circle cx="368.45" cy="232.41" r="4.1"/>
<circle cx="251.32" cy="303.42" r="4.1"/>
<circle cx="512.28" cy="189.14" r="4.1"/>
<circle cx="477.19" cy="182" r="4.1"/>
<circle cx="569.13" cy="184" r="4.1"/>
<circle cx="656.12" cy="145.37" r="4.1"/>
<circle cx="652.66" cy="208.69" r="4.1"/>
<circle cx="500.43" cy="274.67" r="4.1"/>
<circle cx="630.92" cy="217.68" r="4.1"/>
<circle cx="390.2" cy="216.13" r="4.1"/>
<circle cx="664.52" cy="117.77" r="4.1"/>
<circle cx="254.77" cy="231.3" r="4.1"/>
<circle cx="468.79" cy="200.1" r="4.1"/>
<circle cx="381.8" cy="237.53" r="4.1"/>
<circle cx="264.66" cy="308.54" r="4.1"/>
<circle cx="525.63" cy="194.26" r="4.1"/>
<circle cx="490.54" cy="187.12" r="4.1"/>
<circle cx="582.47" cy="189.12" r="4.1"/>
<circle cx="669.46" cy="150.49" r="4.1"/>
<circle cx="666.01" cy="213.81" r="4.1"/>
<circle cx="513.78" cy="279.79" r="4.1"/>
<circle cx="644.26" cy="222.8" r="4.1"/>
<circle cx="403.55" cy="221.25" r="4.1"/>
<circle cx="677.86" cy="122.89" r="4.1"/>
<circle cx="329.91" cy="273.1" r="4.1"/>
<circle cx="268.12" cy="236.42" r="4.1"/>
<circle cx="482.14" cy="205.22" r="4.1"/>
<circle cx="395.15" cy="242.65" r="4.1"/>
<circle cx="278.01" cy="313.66" r="4.1"/>
<circle cx="538.98" cy="199.38" r="4.1"/>
<circle cx="503.88" cy="192.24" r="4.1"/>
<circle cx="595.82" cy="194.24" r="4.1"/>
<circle cx="682.81" cy="155.61" r="4.1"/>
<circle cx="679.36" cy="218.93" r="4.1"/>
<circle cx="527.13" cy="284.91" r="4.1"/>
<circle cx="657.61" cy="227.92" r="4.1"/>
<circle cx="416.89" cy="226.37" r="4.1"/>
<circle cx="691.21" cy="128.01" r="4.1"/>
<circle cx="281.46" cy="241.54" r="4.1"/>
<circle cx="495.48" cy="210.34" r="4.1"/>
<circle cx="408.49" cy="247.77" r="4.1"/>
<circle cx="291.36" cy="318.78" r="4.1"/>
<circle cx="552.33" cy="204.5" r="4.1"/>
<circle cx="600.77" cy="225.66" r="4.1"/>
<circle cx="517.23" cy="197.36" r="4.1"/>
<circle cx="609.17" cy="199.36" r="4.1"/>
<circle cx="696.16" cy="160.73" r="4.1"/>
<circle cx="492.03" cy="269.47" r="4.1"/>
<circle cx="430.24" cy="231.49" r="4.1"/>
<circle cx="704.56" cy="133.13" r="4.1"/>
<circle cx="294.81" cy="246.66" r="4.1"/>
<circle cx="508.83" cy="215.46" r="4.1"/>
<circle cx="421.84" cy="252.89" r="4.1"/>
<circle cx="304.71" cy="323.9" r="4.1"/>
<circle cx="565.67" cy="209.62" r="4.1"/>
<circle cx="614.12" cy="230.78" r="4.1"/>
<circle cx="530.58" cy="202.48" r="4.1"/>
<circle cx="622.52" cy="204.48" r="4.1"/>
<circle cx="709.51" cy="165.85" r="4.1"/>
<circle cx="505.38" cy="274.59" r="4.1"/>
<circle cx="443.59" cy="236.61" r="4.1"/>
<circle cx="701.11" cy="188.15" r="4.1"/>
<circle cx="717.91" cy="138.25" r="4.1"/>
<circle cx="369.95" cy="288.46" r="4.1"/>
<circle cx="308.16" cy="251.78" r="4.1"/>
<circle cx="339.8" cy="321.54" r="4.1"/>
<circle cx="522.18" cy="220.58" r="4.1"/>
<circle cx="435.19" cy="258.01" r="4.1"/>
<circle cx="318.05" cy="329.02" r="4.1"/>
<circle cx="579.02" cy="214.74" r="4.1"/>
<circle cx="543.93" cy="207.6" r="4.1"/>
<circle cx="635.86" cy="209.6" r="4.1"/>
<circle cx="722.85" cy="170.97" r="4.1"/>
<circle cx="456.94" cy="241.73" r="4.1"/>
<circle cx="731.25" cy="143.37" r="4.1"/>
<circle cx="321.51" cy="256.9" r="4.1"/>
<circle cx="440.14" cy="289.23" r="4.1"/>
<circle cx="353.15" cy="326.66" r="4.1"/>
<circle cx="535.53" cy="225.7" r="4.1"/>
<circle cx="448.54" cy="263.13" r="4.1"/>
<circle cx="418.39" cy="297.02" r="4.1"/>
<circle cx="331.4" cy="334.14" r="4.1"/>
<circle cx="592.37" cy="219.86" r="4.1"/>
<circle cx="557.27" cy="212.72" r="4.1"/>
<circle cx="470.28" cy="246.85" r="4.1"/>
<circle cx="744.6" cy="148.49" r="4.1"/>
<circle cx="396.64" cy="298.7" r="4.1"/>
<circle cx="334.85" cy="262.02" r="4.1"/>
<circle cx="548.87" cy="230.83" r="4.1"/>
<circle cx="461.88" cy="268.25" r="4.1"/>
<circle cx="570.62" cy="217.84" r="4.1"/>
<circle cx="483.63" cy="251.97" r="4.1"/>
<circle cx="348.2" cy="267.14" r="4.1"/>
<circle cx="361.55" cy="272.26" r="4.1"/>
<circle cx="374.89" cy="277.38" r="4.1"/>
</g>
<path d="M331.4,164L614,123.31" stroke="#1a1a1a" stroke-width="0.8" stroke-opacity="0.5" fill="none"/>
<g stroke="#1a1a1a" stroke-width="0.9" fill="none" stroke-linecap="square">
<path d="M77.8,66.3L331.4,164 M614,123.31L744.6,104.5 M331.5,362.1L331.5,164"/>
<path d="M77.8,264.4L67.4,266 M162.33,296.97L151.93,298.57 M246.87,329.53L236.47,331.13 M331.4,362.1L321,363.7 M744.6,302.6L754.2,306.35 M692.95,310.04L702.55,313.79 M641.3,317.48L650.9,321.23 M589.65,324.91L599.25,328.66 M538,332.35L547.6,336.1 M486.35,339.79L495.95,343.54 M434.7,347.23L444.3,350.98 M383.05,354.66L392.65,358.41 M331.4,362.1L341,365.85 M77.8,264.4L68.2,261.1 M77.8,214.87L68.2,211.57 M77.8,165.35L68.2,162.05 M77.8,115.82L68.2,112.52 M77.8,66.3L68.2,63"/>
</g>
<g font-family="'Liberation Mono', monospace" font-size="14.6" fill="#484848">
<text x="64.2" y="280.7" text-anchor="end">4</text>
<text x="148.73" y="313.27" text-anchor="end">6</text>
<text x="233.27" y="345.83" text-anchor="end">8</text>
<text x="317.8" y="378.4" text-anchor="end">10</text>
<text x="758.8" y="321.2">8</text>
<text x="707.15" y="328.64">9</text>
<text x="655.5" y="336.07">10</text>
<text x="603.85" y="343.51">11</text>
<text x="552.2" y="350.95">12</text>
<text x="500.55" y="358.39">13</text>
<text x="448.9" y="365.82">14</text>
<text x="397.25" y="373.26">15</text>
<text x="345.6" y="380.7">16</text>
<text x="65.6" y="265" text-anchor="end">11</text>
<text x="71.2" y="215.47" text-anchor="end">11.5</text>
<text x="65.6" y="165.95" text-anchor="end">12</text>
<text x="71.2" y="116.42" text-anchor="end">12.5</text>
<text x="65.6" y="66.9" text-anchor="end">13</text>
</g>
<g font-family="'Liberation Serif', serif" fill="#111">
<text x="220" y="408.3" font-size="21.2" textLength="14.4" lengthAdjust="spacingAndGlyphs">N</text>
<text x="504.3" y="400.6" font-size="21.4" textLength="13.4" lengthAdjust="spacingAndGlyphs">T</text>
<g transform="translate(23.6,210) rotate(-90)">
<text x="4.6" y="0" font-size="23.5" font-style="italic" stroke="#111" stroke-width="0.25">f</text>
<text x="12.4" y="5.2" font-size="12.6" font-style="italic" stroke="#111" stroke-width="0.2">R</text>
<text x="21.6" y="7.0" font-size="9.4" font-style="italic" stroke="#111" stroke-width="0.2">s</text>
<text x="33.4" y="1.3" font-size="24">(</text>
<text x="40.8" y="0" font-size="20.3" textLength="13.1" lengthAdjust="spacingAndGlyphs">N</text>
<text x="56.6" y="0" font-size="20.3">,</text>
<text x="64.2" y="0" font-size="20.3" textLength="13.9" lengthAdjust="spacingAndGlyphs">T</text>
<text x="78.4" y="1.3" font-size="24">)</text>
</g>
</g>
</svg>
</body></html>
